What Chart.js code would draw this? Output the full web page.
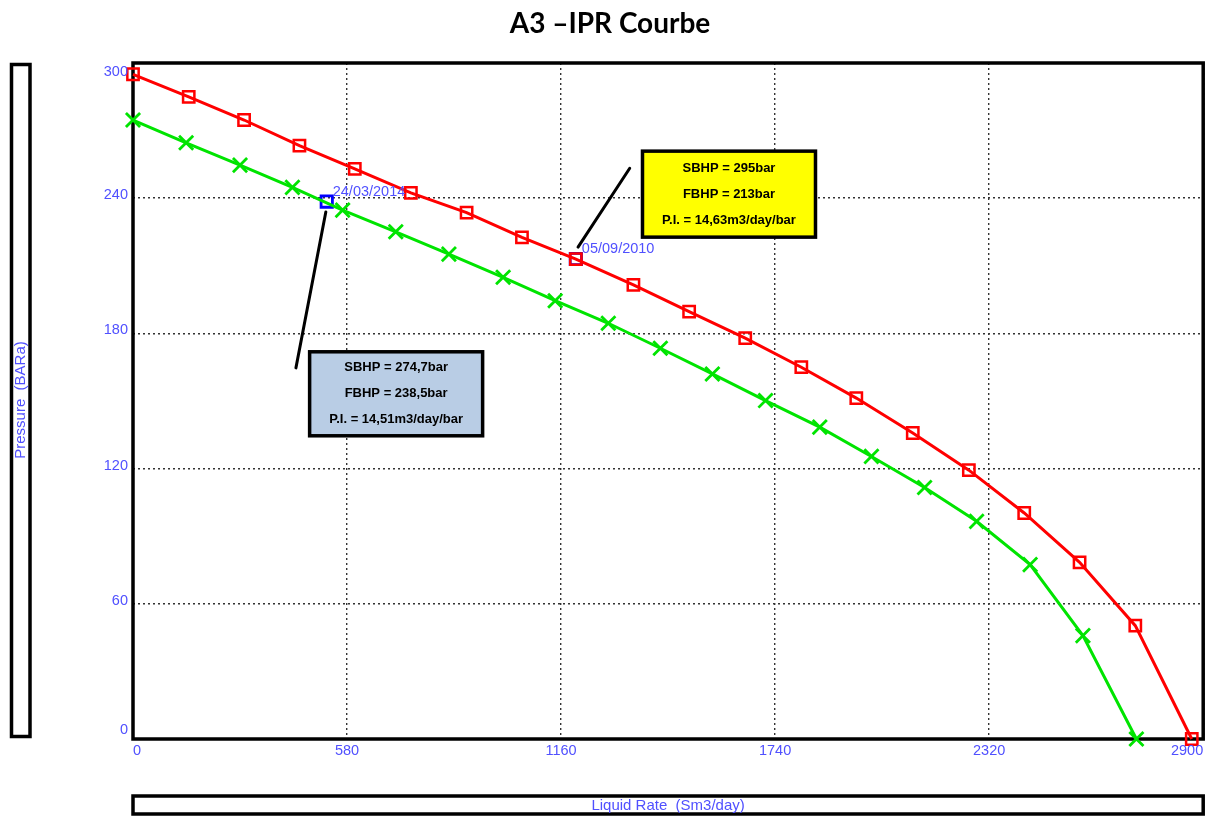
<!DOCTYPE html>
<html>
<head>
<meta charset="utf-8">
<title>A3 – IPR Courbe</title>
<script src="https://cdn.jsdelivr.net/npm/chart.js@4/dist/chart.umd.min.js"></script>
<style>
  html, body { margin: 0; padding: 0; background: #ffffff; }
  #wrap { width: 1216px; height: 816px; position: relative; }
  canvas { display: block; }
</style>
</head>
<body>
<div id="wrap"><canvas id="ipr" width="1216" height="816"></canvas></div>
<script>
// IPR curve at the 2010 test (SBHP 295 bar)
const qRed = [0, 151, 301, 451, 601, 753, 904, 1054, 1200, 1356, 1507, 1659, 1811, 1960, 2113, 2265, 2415, 2565, 2716, 2869];
const pRed = [295, 285, 274.7, 263.3, 253, 242.4, 233.6, 222.6, 213, 201.5, 189.7, 177.9, 165, 151.3, 135.8, 119.3, 100.3, 78.4, 50.3, 0];

// IPR curve at the 2014 test (SBHP 274,7 bar)
const qGreen = [0, 144, 290, 432, 568, 712, 856, 1003, 1144, 1288, 1429, 1570, 1714, 1861, 2001, 2145, 2286, 2431, 2574, 2719];
const pGreen = [274.7, 264.6, 254.7, 244.8, 234.7, 225.1, 215.2, 204.9, 194.5, 184.5, 173.4, 162, 150.2, 138.4, 125.4, 111.6, 96.6, 77.4, 45.9, 0];

// Measured well tests: rate and flowing bottom-hole pressure
const testDates = ['24/03/2014', '05/09/2010'];
const testQ = [525, 1200];
const testP = [238.5, 213];

// Axis ticks
const xTicks = [0, 580, 1160, 1740, 2320, 2900];
const yTicks = [0, 60, 120, 180, 240, 300];

// Test summary boxes (anchored in data units)
const noteLines2014 = ['SBHP = 274,7bar', 'FBHP = 238,5bar', 'P.I. = 14,51m3/day/bar'];
const noteLines2010 = ['SBHP = 295bar', 'FBHP = 213bar', 'P.I. = 14,63m3/day/bar'];
const noteCenterQ = [713, 1615];
const noteCenterP = [153.2, 241.8];
const leaderFromQ = [522.5, 1206];
const leaderFromP = [233.9, 218.3];
const leaderToQ = [441.5, 1346];
const leaderToP = [164.7, 253.3];

const BLUE_TEXT = '#5050ff';
const toXY = (xs, ys) => xs.map((x, i) => ({ x: x, y: ys[i] }));

const notes = [
  { lines: noteLines2014, fill: '#b9cde5', w: 173, h: 84 },
  { lines: noteLines2010, fill: '#ffff00', w: 173, h: 86 }
];

const decorPlugin = {
  id: 'decor',
  beforeDatasetsDraw(chart) {
    const { ctx, chartArea: a } = chart;
    ctx.save();
    ctx.strokeStyle = '#000';
    ctx.lineWidth = 3.5;
    ctx.strokeRect(a.left, a.top, a.right - a.left, a.bottom - a.top);
    ctx.restore();
  },
  afterDatasetsDraw(chart) {
    const { ctx, chartArea: a, scales } = chart;
    const xs = scales.x, ys = scales.y;
    ctx.save();

    // title
    ctx.fillStyle = '#000';
    ctx.font = 'bold 28px Lato, "Open Sans", sans-serif';
    ctx.textAlign = 'center';
    ctx.textBaseline = 'alphabetic';
    ctx.fillText('A3 \u2013IPR Courbe', 610, 33);

    // tick labels
    ctx.font = '14.5px "Liberation Sans", Arial, sans-serif';
    ctx.fillStyle = BLUE_TEXT;
    ctx.textBaseline = 'middle';
    xs.ticks.forEach(t => {
      const label = String(t.value);
      const w = ctx.measureText(label).width;
      let px = xs.getPixelForValue(t.value);
      px = Math.min(Math.max(px, a.left + w / 2), a.right - w / 2);
      ctx.textAlign = 'center';
      ctx.fillText(label, px, a.bottom + 12);
    });
    ys.ticks.forEach(t => {
      let py = ys.getPixelForValue(t.value) - 3;
      py = Math.min(Math.max(py, a.top + 9), a.bottom - 9);
      ctx.textAlign = 'right';
      ctx.fillText(String(t.value), a.left - 5, py);
    });

    // axis title boxes
    ctx.strokeStyle = '#000';
    ctx.lineWidth = 3.5;
    ctx.strokeRect(11.5, 64.5, 18.5, 672);
    ctx.strokeRect(a.left, 796, a.right - a.left, 18);
    ctx.fillStyle = BLUE_TEXT;
    ctx.font = '15px "Liberation Sans", Arial, sans-serif';
    ctx.textAlign = 'center';
    ctx.textBaseline = 'middle';
    ctx.fillText('Liquid Rate  (Sm3/day)', (a.left + a.right) / 2, 806);
    ctx.save();
    ctx.translate(21, 400);
    ctx.rotate(-Math.PI / 2);
    ctx.fillText('Pressure  (BARa)', 0, 0);
    ctx.restore();

    // test date labels
    const meta = chart.getDatasetMeta(2);
    ctx.font = '14.5px "Liberation Sans", Arial, sans-serif';
    ctx.textAlign = 'left';
    meta.data.forEach((pt, i) => {
      ctx.fillText(testDates[i], pt.x + 6, pt.y - 10);
    });

    // leader lines
    ctx.strokeStyle = '#000';
    ctx.lineWidth = 3;
    ctx.lineCap = 'round';
    leaderFromQ.forEach((q, i) => {
      ctx.beginPath();
      ctx.moveTo(xs.getPixelForValue(q), ys.getPixelForValue(leaderFromP[i]));
      ctx.lineTo(xs.getPixelForValue(leaderToQ[i]), ys.getPixelForValue(leaderToP[i]));
      ctx.stroke();
    });

    // summary boxes
    notes.forEach((n, i) => {
      const cx = xs.getPixelForValue(noteCenterQ[i]);
      const cy = ys.getPixelForValue(noteCenterP[i]);
      ctx.fillStyle = n.fill;
      ctx.fillRect(cx - n.w / 2, cy - n.h / 2, n.w, n.h);
      ctx.lineWidth = 3.5;
      ctx.strokeStyle = '#000';
      ctx.strokeRect(cx - n.w / 2, cy - n.h / 2, n.w, n.h);
      ctx.fillStyle = '#000';
      ctx.font = 'bold 13px "Liberation Sans", Arial, sans-serif';
      ctx.textAlign = 'center';
      n.lines.forEach((line, k) => ctx.fillText(line, cx, cy + (k - 1) * 26));
    });

    ctx.restore();
  }
};

new Chart(document.getElementById('ipr'), {
  type: 'line',
  data: {
    datasets: [
      {
        label: 'IPR 2014',
        data: toXY(qGreen, pGreen),
        borderColor: '#00e400',
        backgroundColor: 'transparent',
        borderWidth: 3,
        pointStyle: 'crossRot',
        pointRadius: 10,
        pointBorderWidth: 2.8,
        pointBorderColor: '#00e400',
        tension: 0,
        clip: false
      },
      {
        label: 'IPR 2010',
        data: toXY(qRed, pRed),
        borderColor: '#ff0000',
        backgroundColor: 'transparent',
        borderWidth: 3,
        pointStyle: 'rect',
        pointRadius: 8,
        pointBorderWidth: 2.5,
        pointBorderColor: '#ff0000',
        pointBackgroundColor: 'transparent',
        tension: 0,
        clip: false
      },
      {
        label: 'Tests',
        data: toXY(testQ, testP),
        showLine: false,
        pointStyle: 'rect',
        pointRadius: 8,
        pointBorderWidth: 2.8,
        pointBorderColor: '#0000ff',
        pointBackgroundColor: 'transparent',
        clip: false
      }
    ]
  },
  options: {
    responsive: false,
    animation: false,
    events: [],
    layout: { padding: { left: 133, right: 11, top: 63, bottom: 77 } },
    plugins: { legend: { display: false }, tooltip: { enabled: false }, title: { display: false } },
    scales: {
      x: {
        type: 'linear',
        min: 0, max: 2900,
        afterBuildTicks: s => { s.ticks = xTicks.map(v => ({ value: v })); },
        ticks: { display: false },
        grid: { color: '#333', lineWidth: 1.4, drawTicks: false },
        border: { display: false, dash: [2, 3] }
      },
      y: {
        type: 'linear',
        min: 0, max: 300,
        afterBuildTicks: s => { s.ticks = yTicks.map(v => ({ value: v })); },
        ticks: { display: false },
        grid: { color: '#333', lineWidth: 1.4, drawTicks: false },
        border: { display: false, dash: [2, 3] }
      }
    }
  },
  plugins: [decorPlugin]
});
</script>
</body>
</html>
